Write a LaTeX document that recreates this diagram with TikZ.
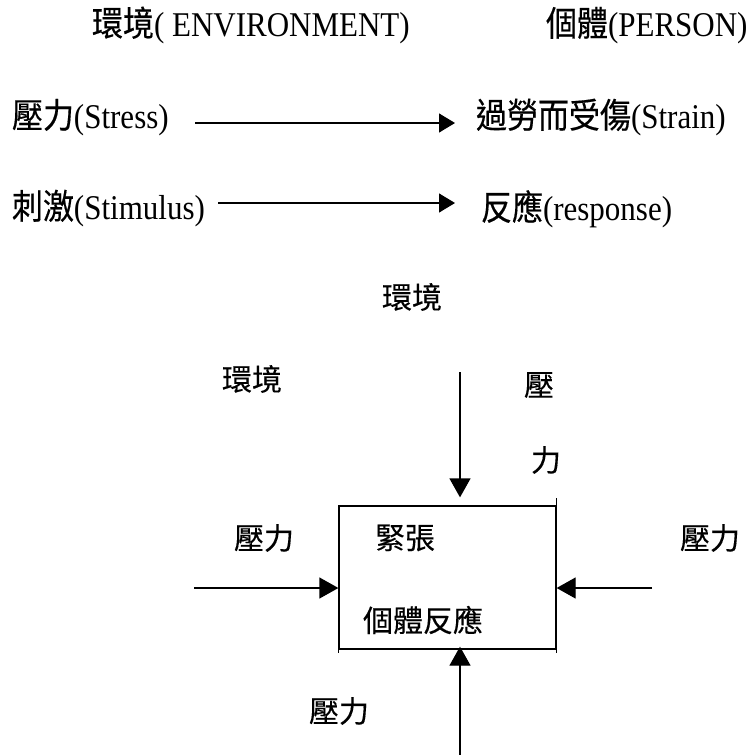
\documentclass[tikz,border=0pt]{standalone}
\usepackage{fontspec}
\setmainfont{Liberation Serif}
\newfontfamily\cjk[FakeBold=0.45]{Noto Sans CJK TC}
\newfontfamily\cjklow[FakeBold=0.3]{Noto Sans CJK TC}
\usetikzlibrary{arrows.meta}
\newcommand\stretchy[1]{\scalebox{1}[1.12]{#1}}
\begin{document}
\begin{tikzpicture}[x=1pt,y=-1pt,
  txt/.style={inner sep=0pt,outer sep=0pt,font=\fontsize{31}{36}\selectfont},
  lbl/.style={inner sep=0pt,outer sep=0pt,font=\fontsize{30}{36}\selectfont\cjklow},
  arrup/.style={line width=1.3pt,-{Triangle[length=16pt,width=19pt]}},
  arr/.style={line width=1.3pt,-{Triangle[length=19pt,width=21pt]}},
  boxst/.style={draw,line width=1.3pt,inner sep=0pt,minimum width=217pt,minimum height=143pt}]
\useasboundingbox (0,0) rectangle (755,755);
% header
\node[txt,anchor=base west] (envhead) at (92,36) {\stretchy{{\cjk 環境}( ENVIRONMENT)}};
\node[txt,anchor=base west] (personhead) at (546,36) {\stretchy{{\cjk 個體}(PERSON)}};
% row 1
\node[txt,anchor=base west] (stress) at (12,128) {\stretchy{{\cjk 壓力}(Stress)}};
\node[txt,anchor=base west] (strain) at (476,128) {\stretchy{{\cjk 過勞而受傷}(Strain)}};
\coordinate (s1) at (195,123);
\coordinate (e1) at (455,123);
\draw[arrup] (s1) -- (e1);
% row 2
\node[txt,anchor=base west] (stimulus) at (12,219) {\stretchy{{\cjk 刺激}(Stimulus)}};
\node[txt,anchor=base west] (response) at (481,220) {\stretchy{{\cjk 反應}(response)}};
\coordinate (s2) at (218,203);
\coordinate (e2) at (455,203);
\draw[arrup] (s2) -- (e2);
% lower diagram
\node[lbl] (envmid) at (412,297) {環境};
\node[lbl] (envleft) at (252,379) {環境};
\node[lbl] (ya) at (539,385) {壓};
\node[lbl] (li) at (546,460) {力};
\node[boxst] (box) at (447.5,577.5) {};
\node[lbl] (tension) at (405,538) {緊張};
\node[lbl] (reaction) at (423,620) {個體反應};
\node[lbl] (pleft) at (264,538) {壓力};
\node[lbl] (pright) at (710,538) {壓力};
\node[lbl] (pbottom) at (339,711) {壓力};
% small ticks on box corners
\draw[line width=1.3pt] (box.north east) -- ++(0,-7);
\draw[line width=1.3pt] (box.south east) -- ++(0,3);
\draw[line width=1.3pt] (box.south west) -- ++(0,3);
% arrows into box
\coordinate (topst) at (460,372);
\draw[arr,shorten >=8pt] (topst) -- (topst |- box.north);
\coordinate (botst) at (460,755);
\draw[arr,shorten >=-3pt] (botst) -- (botst |- box.south);
\coordinate (leftst) at (194,588);
\draw[arr] (leftst) -- (leftst -| box.west);
\coordinate (rightst) at (652,588);
\draw[arr] (rightst) -- (rightst -| box.east);
\end{tikzpicture}
\end{document}
